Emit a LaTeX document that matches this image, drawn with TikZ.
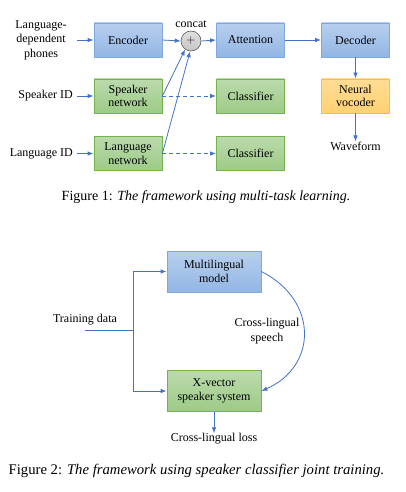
\documentclass[tikz,border=0pt]{standalone}
\usepackage{fontspec}
\setmainfont{Liberation Serif}
\usetikzlibrary{arrows.meta,calc}
\definecolor{lineblue}{HTML}{4472C4}
\definecolor{bluetop}{HTML}{B8CFEE}
\definecolor{bluebot}{HTML}{93B6E4}
\definecolor{blueedge}{HTML}{7FA8DE}
\definecolor{greentop}{HTML}{BBDAAC}
\definecolor{greenbot}{HTML}{9DCB87}
\definecolor{greenedge}{HTML}{74B34F}
\definecolor{orangetop}{HTML}{FFDC95}
\definecolor{orangebot}{HTML}{FFD173}
\definecolor{orangeedge}{HTML}{FFC12A}
\tikzset{
  txt/.style={font=\fontsize{12}{13.5}\selectfont, inner sep=0pt, align=center},
  box/.style={txt, minimum width=68pt, minimum height=34pt, line width=0.8pt},
  bluebox/.style={box, draw=blueedge, top color=bluetop, bottom color=bluebot},
  greenbox/.style={box, draw=greenedge, top color=greentop, bottom color=greenbot},
  orangebox/.style={box, draw=orangeedge, top color=orangetop, bottom color=orangebot},
  bigbox/.style={minimum width=94pt, minimum height=41pt},
  arr/.style={draw=lineblue, line width=0.8pt, -{Latex[length=6pt,width=4.5pt]}},
  dasharr/.style={arr, dash pattern=on 4pt off 3pt},
  plain/.style={draw=lineblue, line width=0.8pt},
  captxt/.style={font=\fontsize{14}{16}\selectfont, inner sep=0pt}
}
\begin{document}
\begin{tikzpicture}[x=1pt,y=-1pt]
\useasboundingbox (0,0) rectangle (406,492);
% Figure 1
\node[bluebox] (enc) at (128,40) {Encoder};
\node[greenbox] (spk) at (128,96) {Speaker\\network};
\node[greenbox] (lang) at (128,153.5) {Language\\network};
\node[circle, draw=gray!70!black, line width=0.6pt, inner sep=0pt, minimum size=20pt,
      top color=gray!25, bottom color=gray!45, font=\fontsize{13}{13}\selectfont] (cat) at (191,41) {$+$};
\node[txt, anchor=south] (catl) at (191,28) {concat};
\node[bluebox] (att) at (250.5,40) {Attention};
\node[bluebox] (dec) at (355.5,40) {Decoder};
\node[orangebox] (voc) at (355.5,96) {Neural\\vocoder};
\node[greenbox] (cls1) at (250.5,96) {Classifier};
\node[greenbox] (cls2) at (250.5,153.5) {Classifier};
\node[txt, font=\fontsize{12}{14.5}\selectfont] (phon) at (41,40) {Language-\\dependent\\phones};
\node[txt, anchor=east] (spkid) at (73,96) {Speaker ID};
\node[txt, anchor=east] (langid) at (73,153.5) {Language ID};
\node[txt] (wave) at (355.5,146) {Waveform};
\coordinate (phe) at (77,40);
\coordinate (spe) at (77,96);
\coordinate (lae) at (77,153.5);
\draw[arr] (phe) -- (enc.west);
\draw[arr] (spe) -- (spk.west);
\draw[arr] (lae) -- (lang.west);
\draw[arr] (enc.east) -- (cat.west);
\draw[arr] (cat.east) -- (att.west);
\draw[arr] (att.east) -- (dec.west);
\draw[arr] (dec.south) -- (voc.north);
\draw[arr] (voc.south) -- (wave.north);
\draw[arr] (spk.east) -- (cat.-125);
\draw[arr] (lang.east) -- (cat.-95);
\draw[dasharr] (spk.east) -- (cls1.west);
\draw[dasharr] (lang.east) -- (cls2.west);
\node[captxt] (cap1) at (206,197) {Figure 1: \textit{The framework using multi-task learning.}};
% Figure 2
\node[bluebox, bigbox] (ml) at (214,271.5) {Multilingual\\model};
\node[greenbox, bigbox] (xv) at (214,391) {X-vector\\speaker system};
\node[txt] (td) at (85,320) {Training data};
\coordinate (tds) at (85,330.7);
\coordinate (br) at (133,330.7);
\coordinate (brt) at (133,271.5);
\coordinate (brb) at (133,391);
\draw[plain] (tds) -- (br);
\draw[plain] (brt) -- (brb);
\draw[arr] (brt) -- (ml.west);
\draw[arr] (brb) -- (xv.west);
\draw[arr] (ml.east) .. controls (318,300) and (318,366) .. (xv.east);
\node[txt, font=\fontsize{12}{15}\selectfont] (cls) at (267,331.5) {Cross-lingual\\speech};
\node[txt] (loss) at (214,439) {Cross-lingual loss};
\draw[arr] (xv.south) -- (loss.north);
\node[captxt, font=\fontsize{14.7}{16}\selectfont] (cap2) at (196.5,470.7) {Figure 2: \textit{The framework using speaker classifier joint training.}};
\end{tikzpicture}
\end{document}
